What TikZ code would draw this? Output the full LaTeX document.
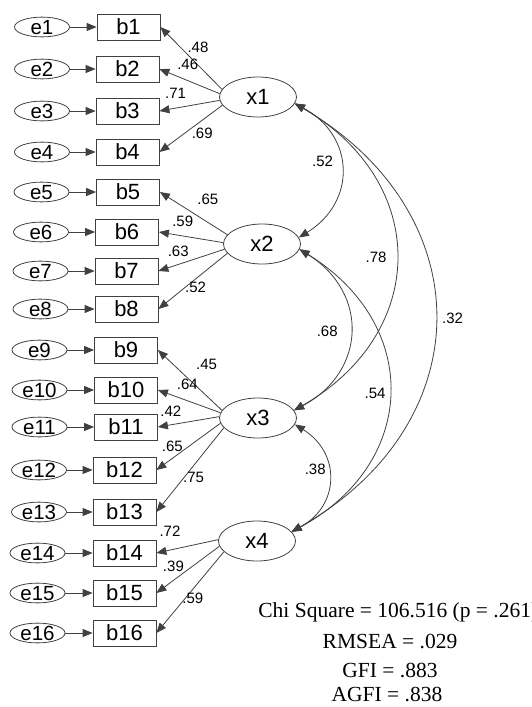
\documentclass[tikz,border=0pt]{standalone}
\usepackage{fontspec}
\setmainfont{Liberation Serif}
\setsansfont{Liberation Sans}
\usetikzlibrary{shapes.geometric,arrows.meta}

\begin{document}
\begin{tikzpicture}[x=1pt, y=-1pt, line width=0.8pt,
  >={Triangle[length=10pt,width=8pt]},
  err/.style={ellipse, draw=black!75, minimum width=55pt, minimum height=19pt, inner sep=0pt,
    text height=14pt, text depth=0pt, font=\sffamily\fontsize{20.5}{20.5}\selectfont},
  item/.style={rectangle, draw=black!75, minimum width=63pt, minimum height=26pt, inner sep=0pt,
    font=\sffamily\fontsize{22}{22}\selectfont},
  latent/.style={ellipse, draw=black!75, minimum width=77pt, minimum height=40pt, inner sep=0pt,
    font=\sffamily\fontsize{22}{22}\selectfont},
  coef/.style={font=\sffamily\fontsize{15}{15}\selectfont, inner sep=1pt},
  stat/.style={font=\fontsize{21.5}{21.5}\selectfont, inner sep=0pt},
  link/.style={->, draw=black!75},
  cov/.style={<->, draw=black!75, bend left=60, looseness=1.3}]
\useasboundingbox (0,0) rectangle (532,707);

% error terms and observed items
\foreach \i/\ex/\bx/\y in {1/42/128.5/27, 2/42/127.5/69, 3/42/127.5/111, 4/42/127.5/152,
    5/41.5/128/192, 6/41/127/232, 7/40.5/126.5/271, 8/40.5/126.5/309,
    9/39.5/126/350, 10/39.5/126/390, 11/39.5/126/427, 12/39/124.5/470,
    13/39/124.5/512, 14/37.5/124.5/553, 15/37.5/124.5/593, 16/37.5/124.5/633}{
  \node (e\i) at (\ex,\y) [err] {e\i};
  \node (b\i) at (\bx,\y) [item] {b\i};
  \draw [link] (e\i) -- (b\i);
}

% latent factors
\node (x1) at (258,97) [latent] {x1};
\node (x2) at (262,244) [latent] {x2};
\node (x3) at (258,418) [latent] {x3};
\node (x4) at (257,541) [latent] {x4};

% loadings
\draw [link] (x1.168) -- (b1.east) node[coef, pos=.39, above=11pt] {.48};
\draw [link] (x1.175) -- (b2.east) node[coef, pos=.53, above=10pt] {.46};
\draw [link] (x1.185) -- (b3.east) node[coef, pos=.73, above=8.5pt] {.71};
\draw [link] (x1.193) -- (b4.east) node[coef, pos=.32, below=6.3pt] {.69};

\draw [link] (x2.165) -- (b5.east) node[coef, pos=.29, above=16pt] {.65};
\draw [link] (x2.178) -- (b6.east) node[coef, pos=.63, above=7.4pt] {.59};
\draw [link] (x2.188) -- (b7.east) node[coef, pos=.70, above=6pt] {.63};
\draw [link] (x2.195) -- (b8.east) node[coef, pos=.46, below=2pt] {.52};

\draw [link] (x3.168) -- (b9.east) node[coef, pos=.24, above=25pt] {.45};
\draw [link] (x3.172) -- (b10.east) node[coef, pos=.53, above=9.5pt] {.64};
\draw [link] (x3.178) -- (b11.east) node[coef, pos=.79, above=6.5pt] {.42};
\draw [link] (x3.188) -- (b12.east) node[coef, pos=.75, above=5pt] {.65};
\draw [link] (x3.196) -- (b13.east) node[coef, pos=.45, below=5.5pt] {.75};

\draw [link] (x4.178) -- (b14.east) node[coef, pos=.78, above=12pt] {.72};
\draw [link] (x4.188) -- (b15.east) node[coef, pos=.73, above=7pt] {.39};
\draw [link] (x4.198) -- (b16.east) node[coef, pos=.46, below=2.5pt] {.59};

% correlations
\draw [cov] (x1.350) to node[coef, pos=.45, left=6pt] {.52} (x2.10);
\draw [cov] (x1.350) to node[coef, left=8pt] {.78} (x3.12);
\draw [cov] (x1.350) to node[coef, right=6pt] {.32} (x4.15);
\draw [cov] (x2.-8) to node[coef, left=11pt] {.68} (x3.12);
\draw [cov] (x2.-8) to node[coef, left=2pt] {.54} (x4.15);
\draw [cov] (x3.-10) to node[coef, pos=.42, left=1pt] {.38} (x4.15);

% fit indices
\node (chi) at (258,612) [stat, anchor=west] {Chi Square = 106.516 (p = .261)};
\node (rmsea) at (390,641) [stat] {RMSEA = .029};
\node (gfi) at (390,670) [stat] {GFI = .883};
\node (agfi) at (387,694) [stat] {AGFI = .838};
\end{tikzpicture}
\end{document}
